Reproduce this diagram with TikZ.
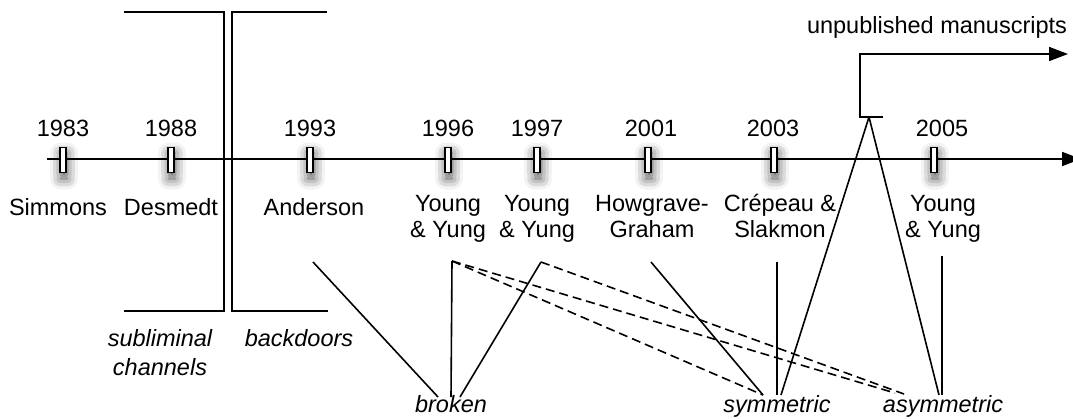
\documentclass[tikz,border=0pt]{standalone}
\usepackage{fontspec}
\setmainfont{Liberation Sans}
\usetikzlibrary{arrows.meta,shadows.blur}
\newcommand{\twoline}[2]{\begin{tabular}[t]{@{}c@{}}#1\\#2\end{tabular}}
\begin{document}
\begin{tikzpicture}[x=1pt,y=-1pt,
  every node/.style={inner sep=0pt, font=\fontsize{23.5}{26}\selectfont},
  yr/.style={anchor=base},
  nm/.style={anchor=base},
  cat/.style={anchor=base, font=\fontsize{23.5}{29}\selectfont\itshape},
  tickbox/.style={draw, fill=white, line width=1.2pt, minimum width=6pt, minimum height=25pt,
    blur shadow={shadow xshift=1pt, shadow yshift=-6pt, shadow blur radius=11pt,
      shadow blur extra rounding=6pt, shadow opacity=75}},
  conn/.style={line width=1.6pt},
  dconn/.style={line width=1.6pt, dash pattern=on 9pt off 5pt},
  axis/.style={line width=1.7pt, -{Triangle[length=19pt,width=14pt]}},
  bracket/.style={line width=1.7pt}
]
\useasboundingbox (0,0) rectangle (1073,418);
\clip (0,0) rectangle (1073,418);

% timeline
\coordinate (tl0) at (47,159);
\coordinate (tl1) at (1081,159);
\draw[axis] (tl0) -- (tl1);

% ticks
\node[tickbox] (t83) at (63,160) {};
\node[tickbox] (t88) at (171,160) {};
\node[tickbox] (t93) at (310,160) {};
\node[tickbox] (t96) at (448,160) {};
\node[tickbox] (t97) at (537,160) {};
\node[tickbox] (t01) at (648,160) {};
\node[tickbox] (t03) at (774,160) {};
\node[tickbox] (t05) at (934,160) {};

% years
\node[yr] (y83) at (63,136) {1983};
\node[yr] (y88) at (171,136) {1988};
\node[yr] (y93) at (310,136) {1993};
\node[yr] (y96) at (448,136) {1996};
\node[yr] (y97) at (537,136) {1997};
\node[yr] (y01) at (651,136) {2001};
\node[yr] (y03) at (773,136) {2003};
\node[yr] (y05) at (942,136) {2005};

% names
\node[nm] (n83) at (58,215) {Simmons};
\node[nm] (n88) at (171,215) {Desmedt};
\node[nm] (n93) at (314,215) {Anderson};
\node[nm] (n96) at (448,211) {\twoline{Young}{\& Yung}};
\node[nm] (n97) at (537,211) {\twoline{Young}{\& Yung}};
\node[nm] (n01) at (652,211) {\twoline{Howgrave-}{Graham}};
\node[nm] (n03) at (780,211) {\twoline{Crépeau \&}{Slakmon}};
\node[nm] (n05) at (943,211) {\twoline{Young}{\& Yung}};

% categories
\node[cat] (subl) at (160,346) {\twoline{subliminal}{channels}};
\node[cat] (back) at (299,346) {backdoors};
\node[cat] (brok) at (451,412) {broken};
\node[cat] (symm) at (777,412) {symmetric};
\node[cat] (asym) at (943,412) {asymmetric};
\node[nm] (unpub) at (937,33) {unpublished manuscripts};

% brackets
\coordinate (lbT) at (124,12);
\coordinate (lbTR) at (224,12);
\coordinate (lbBR) at (224,311);
\coordinate (lbB) at (124,311);
\draw[bracket] (lbT) -- (lbTR) -- (lbBR) -- (lbB);
\coordinate (rbT) at (327,12);
\coordinate (rbTL) at (232,12);
\coordinate (rbBL) at (232,311);
\coordinate (rbB) at (328,311);
\draw[bracket, line width=1.4pt] (rbT) -- (rbTL) -- (rbBL) -- (rbB);

% unpublished branch
\coordinate (umR) at (883,117);
\coordinate (umL) at (860,117);
\coordinate (umLT) at (860,54);
\coordinate (umA) at (1068,54);
\coordinate (um) at (869,117);
\draw[axis] (umR) -- (umL) -- (umLT) -- (umA);

% connector start points
\coordinate (c93) at (313,262);
\coordinate (c96) at (452,261);
\coordinate (c97) at (541,262);
\coordinate (c01) at (651,262);
\coordinate (c03) at (777,262);
\coordinate (c05) at (942,256);

% connector end points
\coordinate (b1) at (438,397);
\coordinate (b2) at (451,397);
\coordinate (b3) at (460,397);
\coordinate (s1) at (763,395);
\coordinate (s2) at (777,395);
\coordinate (s3) at (781,395);
\coordinate (a0) at (895,393);
\coordinate (a1) at (904,394);
\coordinate (a2) at (939,395);
\coordinate (a3) at (942,395);

% solid connectors
\draw[conn] (c93) -- (b1);
\draw[conn] (c96) -- (b2);
\draw[conn] (c97) -- (b3);
\draw[conn] (c01) -- (s1);
\draw[conn] (c03) -- (s2);
\draw[conn] (um) -- (s3);
\draw[conn] (um) -- (a2);
\draw[conn] (c05) -- (a3);

% dashed connectors
\draw[dconn] (c96) -- (s1);
\draw[dconn] (c96) -- (a0);
\draw[dconn] (c97) -- (a1);
\end{tikzpicture}
\end{document}
